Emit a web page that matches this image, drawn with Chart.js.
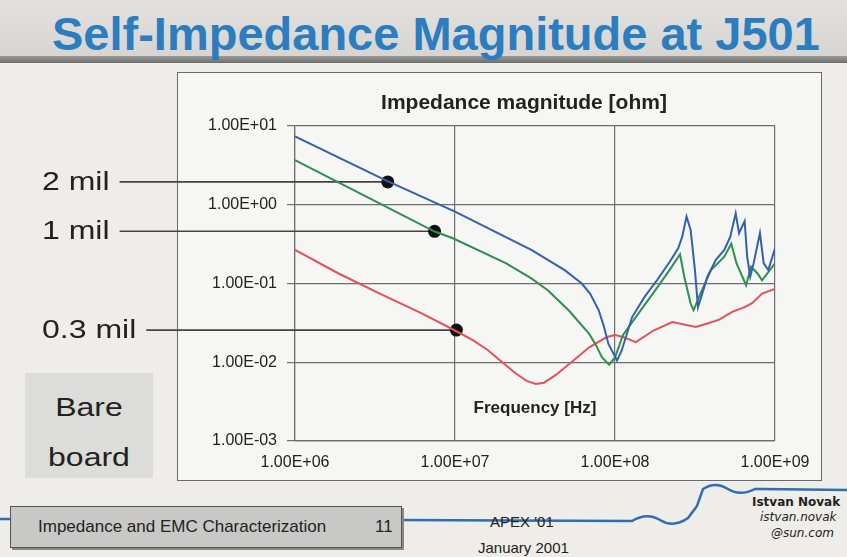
<!DOCTYPE html>
<html>
<head>
<meta charset="utf-8">
<script src="https://cdn.jsdelivr.net/npm/chart.js@4.4.1/dist/chart.umd.min.js"></script>
<style>
  html, body { margin: 0; padding: 0; }
  body {
    width: 847px; height: 557px; overflow: hidden; position: relative;
    background: #eeede9; font-family: "Liberation Sans", Arial, sans-serif;
  }
  .abs { position: absolute; }
  #titleBand {
    left: 0; top: 0; width: 847px; height: 56px;
    background: linear-gradient(#e2e1de, #d6d5d2);
  }
  #titleStripe {
    left: 0; top: 56px; width: 847px; height: 7px;
    background: linear-gradient(#9a9a98, #6e6e6c);
  }
  #slideTitle {
    left: 52px; top: 6px; font-size: 47px; font-weight: bold; color: #2c7cc0;
    white-space: nowrap;
  }
  #chartBox {
    left: 177px; top: 72px; width: 643px; height: 407px;
    background: #f6f6f4; border: 1.5px solid #6a6a6a;
  }
  #bareBox {
    left: 25px; top: 373px; width: 128px; height: 105px; background: #dcdcda;
    text-align: center; font-size: 25px; color: #222; line-height: 50px;
  }
  #bareBox div { transform: scaleX(1.28); }
  #footBox {
    left: 10px; top: 506px; width: 390px; height: 40px; background: #c8c8c6;
    border: 1px solid #555; box-shadow: 2px 2px 0 #888;
    font-size: 17px; color: #222; line-height: 40px;
  }
  .foot { font-size: 15px; color: #222; white-space: nowrap; }
  #canvasWrap { left: 0; top: 0; width: 847px; height: 557px; }
</style>
</head>
<body>
<div id="titleBand" class="abs"></div>
<div id="titleStripe" class="abs"></div>
<div id="slideTitle" class="abs">Self-Impedance Magnitude at J501</div>
<div id="chartBox" class="abs"></div>
<div id="bareBox" class="abs"><div style="margin-top:9px">Bare</div><div>board</div></div>

<svg class="abs" style="left:0;top:0" width="847" height="557">
  <path d="M0 519 L400 520 L632 521 C642 515 652 515 660 520 C668 525 678 525 688 518 L697 506 L703 489
           C712 483 720 484 728 489 C736 494 745 494 755 489 L847 490"
        fill="none" stroke="#2f6db5" stroke-width="2.5"/>
</svg>

<div id="footBox" class="abs">
  <span style="position:absolute;left:27px">Impedance and EMC Characterization</span>
  <span style="position:absolute;left:364px">11</span>
</div>
<div class="abs foot" style="left:490px;top:513px">APEX '01</div>
<div class="abs foot" style="left:478px;top:539px">January 2001</div>
<div class="abs foot" style="left:752px;top:495px;font-family:'DejaVu Sans';font-weight:bold;font-size:12px">Istvan Novak</div>
<div class="abs foot" style="left:760px;top:510px;font-family:'DejaVu Sans';font-style:italic;font-size:12px">istvan.novak</div>
<div class="abs foot" style="left:771px;top:526px;font-family:'DejaVu Sans';font-style:italic;font-size:12px">@sun.com</div>

<div id="canvasWrap" class="abs"><canvas id="impedanceChart" width="847" height="557"></canvas></div>

<script>
// Axis ticks
const xTickValues = [1e6, 1e7, 1e8, 1e9];
const xTickLabels = ['1.00E+06', '1.00E+07', '1.00E+08', '1.00E+09'];
const yTickValues = [1e-3, 1e-2, 1e-1, 1, 10];
const yTickLabels = ['1.00E-03', '1.00E-02', '1.00E-01', '1.00E+00', '1.00E+01'];

// 2 mil (blue)
const freq2mil = [1.0e6, 3.78e6, 1.0e7, 3.0e7, 4.85e7, 6.2e7, 7.0e7, 7.9e7, 8.5e7, 9.1e7, 1.03e8, 1.1e8,
    1.28e8, 1.53e8, 1.83e8, 2.2e8, 2.48e8, 2.63e8, 2.8e8, 2.97e8, 3.16e8, 3.3e8, 3.46e8,
    3.78e8, 4.27e8, 4.82e8, 5.25e8, 5.68e8, 5.96e8, 6.46e8, 6.7e8, 7.0e8, 7.35e8, 8.05e8,
    8.5e8, 9.08e8, 1.0e9];
const z2mil = [7.4, 1.99, 0.82, 0.267, 0.148, 0.1, 0.074, 0.046, 0.029, 0.0171, 0.0105, 0.014,
    0.0375, 0.0676, 0.11, 0.189, 0.28, 0.39, 0.71, 0.48, 0.148, 0.05, 0.0676,
    0.122, 0.2, 0.267, 0.39, 0.78, 0.436, 0.62, 0.22, 0.122, 0.18, 0.436,
    0.18, 0.148, 0.28];

// 1 mil (green)
const freq1mil = [1.0e6, 7.46e6, 9.7e6, 2.09e7, 3.0e7, 3.8e7, 5.13e7, 6.9e7, 7.6e7, 8.3e7, 9.2e7,
    1.0e8, 1.12e8, 1.45e8, 1.83e8, 2.19e8, 2.55e8, 2.71e8, 2.97e8, 3.1e8, 3.35e8, 3.98e8,
    4.82e8, 5.33e8, 5.75e8, 6.6e8, 7.08e8, 7.76e8, 8.3e8, 1.0e9];
const z1mil = [3.68, 0.457, 0.375, 0.18, 0.116, 0.082, 0.0457, 0.0229, 0.0165, 0.0115, 0.0093,
    0.0115, 0.022, 0.046, 0.088, 0.148, 0.235, 0.122, 0.0556, 0.0457, 0.0676, 0.148,
    0.219, 0.32, 0.18, 0.095, 0.163, 0.135, 0.11, 0.18];

// 0.3 mil (red)
const freq03mil = [1.0e6, 1.86e6, 3.39e6, 6.24e6, 1.0e7, 1.3e7, 1.6e7, 2.0e7, 2.4e7, 2.8e7, 3.2e7, 3.6e7,
    4.27e7, 5.5e7, 6.9e7, 8.9e7, 1.0e8, 1.12e8, 1.35e8, 1.74e8, 2.28e8, 3.2e8, 3.78e8,
    4.48e8, 5.4e8, 6.46e8, 7.2e8, 8.3e8, 1.0e9];
const z03mil = [0.267, 0.135, 0.0745, 0.0414, 0.0253, 0.019, 0.0143, 0.0098, 0.0072, 0.0058, 0.0053, 0.0055,
    0.0069, 0.0105, 0.0155, 0.0209, 0.0222, 0.021, 0.018, 0.0253, 0.0324, 0.028, 0.031,
    0.0347, 0.0436, 0.05, 0.0562, 0.0745, 0.085];

// Marker dots with their callout labels
const markerLabels = ['2 mil', '1 mil', '0.3 mil'];
const markerFreq = [3.8e6, 7.45e6, 1.02e7];
const markerZ = [1.95, 0.46, 0.0256];

function toPoints(xs, ys) {
    return xs.map((x, i) => ({ x: x, y: ys[i] }));
}

function curve(label, xs, ys, color) {
    return {
        label: label,
        data: toPoints(xs, ys),
        showLine: true,
        borderColor: color,
        backgroundColor: color,
        borderWidth: 2,
        pointRadius: 0,
        tension: 0
    };
}

// Callout lines, inner titles
const slideLabels = {
    id: 'slideLabels',
    beforeDatasetsDraw(chart) {
        const ctx = chart.ctx;
        const xs = chart.scales.x, ys = chart.scales.y;
        ctx.save();
        ctx.font = '25px "Liberation Sans", Arial, sans-serif';
        ctx.textBaseline = 'middle';
        ctx.fillStyle = '#222';
        ctx.strokeStyle = '#444';
        ctx.lineWidth = 1.6;
        markerLabels.forEach((lbl, i) => {
            const px = xs.getPixelForValue(markerFreq[i]);
            const py = ys.getPixelForValue(markerZ[i]);
            const w = ctx.measureText(lbl).width * 1.28;
            ctx.save();
            ctx.translate(42, py + 1);
            ctx.scale(1.28, 1);
            ctx.fillText(lbl, 0, 0);
            ctx.restore();
            ctx.beginPath();
            ctx.moveTo(42 + w + 10, py);
            ctx.lineTo(px, py);
            ctx.stroke();
        });
        ctx.restore();
    },
    afterDraw(chart) {
        const ctx = chart.ctx;
        const area = chart.chartArea;
        ctx.save();
        ctx.fillStyle = '#222';
        ctx.textAlign = 'center';
        ctx.textBaseline = 'middle';
        ctx.font = 'bold 21px "Liberation Sans", Arial, sans-serif';
        ctx.fillText('Impedance magnitude [ohm]', area.left + 229, area.top - 23);
        ctx.font = 'bold 17px "Liberation Sans", Arial, sans-serif';
        ctx.fillText('Frequency [Hz]', (area.left + area.right) / 2, area.bottom - 33);
        ctx.restore();
    }
};

const chart = new Chart(document.getElementById('impedanceChart'), {
    type: 'scatter',
    data: {
        datasets: [
            curve('2 mil', freq2mil, z2mil, '#3461ad'),
            curve('1 mil', freq1mil, z1mil, '#2f8f50'),
            curve('0.3 mil', freq03mil, z03mil, '#e3525b'),
            {
                label: 'markers',
                data: toPoints(markerFreq, markerZ),
                pointRadius: 6.5,
                pointBackgroundColor: '#111',
                pointBorderWidth: 0,
                showLine: false
            }
        ]
    },
    options: {
        responsive: false,
        animation: false,
        layout: { padding: { left: 185, right: 72, top: 126, bottom: 76 } },
        plugins: {
            legend: { display: false },
            tooltip: { enabled: false }
        },
        scales: {
            x: {
                type: 'logarithmic',
                min: 1e6,
                max: 1e9,
                afterBuildTicks: s => { s.ticks = xTickValues.map(v => ({ value: v })); },
                afterFit: s => { s.height = 40; },
                ticks: {
                    autoSkip: false,
                    maxRotation: 0,
                    padding: 12,
                    color: '#222',
                    font: { family: '"Liberation Sans", Arial, sans-serif', size: 16 },
                    callback: v => xTickLabels[xTickValues.indexOf(v)]
                },
                grid: { color: '#6e6e6e', lineWidth: 1.2, drawTicks: false },
                border: { color: '#6e6e6e', width: 1.2 }
            },
            y: {
                type: 'logarithmic',
                min: 1e-3,
                max: 10,
                afterBuildTicks: s => { s.ticks = yTickValues.map(v => ({ value: v })); },
                afterFit: s => { s.width = 110; },
                ticks: {
                    padding: 10,
                    color: '#222',
                    font: { family: '"Liberation Sans", Arial, sans-serif', size: 16 },
                    callback: v => yTickLabels[yTickValues.indexOf(v)]
                },
                grid: { color: '#6e6e6e', lineWidth: 1.2, tickLength: 8 },
                border: { color: '#6e6e6e', width: 1.2 }
            }
        }
    },
    plugins: [slideLabels]
});
</script>
</body>
</html>
